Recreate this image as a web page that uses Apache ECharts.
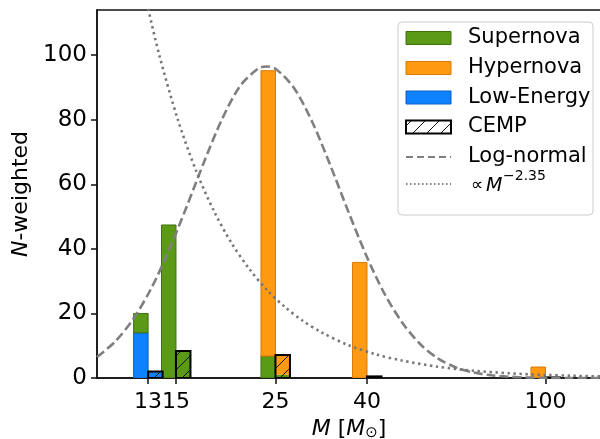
<!DOCTYPE html>
<html><head><meta charset="utf-8">
<script src="https://cdn.jsdelivr.net/npm/echarts@6/dist/echarts.min.js"></script>
<style>html,body{margin:0;padding:0;background:#fff}#c{width:600px;height:439px}</style>
</head><body><div id="c"></div>
<script>
// ---- data ----
const masses = [13, 15, 25, 40, 100];
const lowEnergy = [14.0, 0, 0, 0, 0];
const supernova = [6.0, 47.4, 6.8, 0, 0];
const hypernova = [0, 0, 88.4, 35.8, 3.4];
const cempLowEnergy = [2.0, 0, 0, 0, 0];
const cempSupernova = [0, 8.4, 1.0, 0, 0];
const cempHypernova = [0, 0, 6.1, 0.5, 0.2];
const xTicks = [13, 15, 25, 40, 100];
const yTicks = [0, 20, 40, 60, 80, 100];
const logNormalM = [10.0, 10.96, 12.02, 13.18, 14.45, 15.85, 17.38, 19.05, 20.89, 22.91, 23.88, 25.12, 27.54, 30.20, 33.11, 36.31, 39.81, 43.65, 47.86, 52.48, 57.54, 63.10, 69.18, 75.86, 83.18, 91.20, 100, 114.8, 133];
const logNormalN = [6.5, 11.2, 18.1, 27.5, 39.4, 53.1, 67.4, 80.5, 90.6, 95.9, 96.5, 95.6, 89.7, 79.3, 66.0, 51.7, 38.1, 26.4, 17.3, 10.6, 6.1, 3.3, 1.7, 0.83, 0.38, 0.16, 0.07, 0.01, 0.0];
const powerLawM = [12.59, 13.0, 13.80, 15.14, 16.60, 18.20, 19.95, 21.88, 23.99, 26.30, 28.84, 31.62, 36.31, 41.69, 47.86, 57.54, 69.18, 83.18, 100, 114.8, 133];
const powerLawN = [123.5, 114.5, 99.5, 80.1, 64.5, 51.9, 41.8, 33.7, 27.1, 21.9, 17.6, 14.2, 10.2, 7.4, 5.4, 3.5, 2.25, 1.46, 0.95, 0.69, 0.50];

const C_SN = '#5b9a17', E_SN = '#3f7010';
const C_HN = '#ff9a12', E_HN = '#d97a08';
const C_LE = '#0d82ff', E_LE = '#0b5fc4';
const FONT = 'DejaVu Sans';
const BW = 14.5;

// hatch pattern
const hatch = document.createElement('canvas');
hatch.width = 14; hatch.height = 14;
(function(){
  const g = hatch.getContext('2d');
  g.strokeStyle = '#111'; g.lineWidth = 1;
  g.beginPath();
  g.moveTo(0, 14); g.lineTo(14, 0);
  g.moveTo(-2, 2); g.lineTo(2, -2);
  g.moveTo(12, 16); g.lineTo(16, 12);
  g.stroke();
})();

function stacks(parts) {
  const out = parts.map(() => []);
  masses.forEach((m, i) => {
    let b = 0;
    parts.forEach((p, k) => {
      out[k].push([m, b, b + p[i]]);
      b += p[i];
    });
  });
  return out;
}
const mainStacks = stacks([lowEnergy, supernova, hypernova]);
const cempStacks = stacks([cempLowEnergy, cempSupernova, cempHypernova]);
const cempTotal = masses.map((m, i) => [m, 0, cempLowEnergy[i] + cempSupernova[i] + cempHypernova[i]]);

function renderer(side, fill, stroke, lw) {
  return function (params, api) {
    const m = api.value(0), b = api.value(1), t = api.value(2);
    if (!(t - b > 0)) return null;
    const p0 = api.coord([m, b]);
    const p1 = api.coord([m, t]);
    const x = side < 0 ? p0[0] - BW : p0[0];
    return { type: 'rect', shape: { x: x, y: p1[1], width: BW, height: p0[1] - p1[1] },
      style: { fill: fill, stroke: stroke, lineWidth: lw } };
  };
}
function barSeries(name, data, side, fill, stroke, lw, z) {
  return { type: 'custom', name: name, data: data, z: z || 2, clip: true,
    encode: { x: 0, y: [1, 2] }, renderItem: renderer(side, fill, stroke, lw), silent: true };
}

const series = [
  barSeries('Low-Energy', mainStacks[0], -1, C_LE, E_LE, 1),
  barSeries('Supernova', mainStacks[1], -1, C_SN, E_SN, 1),
  barSeries('Hypernova', mainStacks[2], -1, C_HN, E_HN, 1),
  barSeries('CEMP-LE', cempStacks[0], 1, C_LE, null, 0),
  barSeries('CEMP-SN', cempStacks[1], 1, C_SN, null, 0),
  barSeries('CEMP-HN', cempStacks[2], 1, C_HN, null, 0),
  barSeries('CEMP', cempTotal, 1, { image: hatch, repeat: 'repeat' }, '#000', 2, 3),
  { type: 'line', name: 'Log-normal', data: logNormalM.map((m, i) => [m, logNormalN[i]]),
    showSymbol: false, smooth: 0.3, z: 4, clip: true,
    lineStyle: { color: '#7f7f7f', width: 2.6, type: [9, 4] } },
  { type: 'line', name: 'powerlaw', data: powerLawM.map((m, i) => [m, powerLawN[i]]),
    showSymbol: false, smooth: 0.3, z: 4, clip: true,
    lineStyle: { color: '#777', width: 2.6, type: [2.4, 3.6] } }
];

// legend (graphic)
const LX = 406, LTX = 468;
const rowsY = [38, 68, 97.5, 127, 157, 184];
const legendItems = [
  { type: 'rect', shape: { x: 398, y: 22, width: 195, height: 193, r: 4 },
    style: { fill: 'rgba(255,255,255,0.85)', stroke: '#cccccc', lineWidth: 1 }, z: 10 }
];
[[C_SN, E_SN, 'Supernova'], [C_HN, E_HN, 'Hypernova'], [C_LE, E_LE, 'Low-Energy']].forEach((d, i) => {
  legendItems.push({ type: 'rect', shape: { x: LX, y: rowsY[i] - 6.5, width: 45, height: 13 },
    style: { fill: d[0], stroke: d[1], lineWidth: 1 }, z: 11 });
  legendItems.push({ type: 'text', x: LTX, y: rowsY[i], style: { text: d[2], font: '21px "' + FONT + '"', fill: '#000', verticalAlign: 'middle' }, z: 11 });
});
legendItems.push({ type: 'rect', shape: { x: LX, y: rowsY[3] - 6.5, width: 45, height: 13 },
  style: { fill: { image: hatch, repeat: 'repeat' }, stroke: '#000', lineWidth: 2 }, z: 11 });
legendItems.push({ type: 'text', x: LTX, y: rowsY[3], style: { text: 'CEMP', font: '21px "' + FONT + '"', fill: '#000', verticalAlign: 'middle' }, z: 11 });
legendItems.push({ type: 'line', shape: { x1: LX, y1: rowsY[4], x2: LX + 45, y2: rowsY[4] },
  style: { stroke: '#808080', lineWidth: 2, lineDash: [7, 4] }, z: 11 });
legendItems.push({ type: 'text', x: LTX, y: rowsY[4], style: { text: 'Log-normal', font: '21px "' + FONT + '"', fill: '#000', verticalAlign: 'middle' }, z: 11 });
legendItems.push({ type: 'line', shape: { x1: LX, y1: rowsY[5], x2: LX + 45, y2: rowsY[5] },
  style: { stroke: '#808080', lineWidth: 1.8, lineDash: [1.5, 2.5] }, z: 11 });
legendItems.push({ type: 'text', x: 471, y: rowsY[5] + 2, style: { text: '∝', font: '17px "' + FONT + '"', fill: '#000', verticalAlign: 'middle' }, z: 11 });
legendItems.push({ type: 'text', x: 486, y: rowsY[5] + 2, style: { text: 'M', font: 'italic 19px "' + FONT + '"', fill: '#000', verticalAlign: 'middle' }, z: 11 });
legendItems.push({ type: 'text', x: 503, y: rowsY[5] - 8, style: { text: '−2.35', font: '14px "' + FONT + '"', fill: '#000', verticalAlign: 'middle' }, z: 11 });

const axisLineStyle = { color: '#111', width: 1.5 };
const option = {
  animation: false,
  backgroundColor: '#fff',
  grid: { left: 97, right: -1, top: 10, bottom: 61, show: true, borderColor: '#111', borderWidth: 1.5,
    containLabel: false, outerBoundsMode: 'none' },
  xAxis: {
    type: 'log', logBase: 10, min: 10, max: 133,
    axisLine: { show: true, lineStyle: axisLineStyle },
    axisTick: { show: true, customValues: xTicks, length: 6, inside: false, lineStyle: axisLineStyle },
    axisLabel: { customValues: xTicks, fontSize: 22, color: '#000', margin: 13, fontFamily: FONT },
    splitLine: { show: false }, minorTick: { show: false }, minorSplitLine: { show: false },
    name: '{it|M} [{it|M}{sub|⊙}]', nameLocation: 'middle', nameGap: 40,
    nameTextStyle: { fontSize: 22, color: '#000', fontFamily: FONT,
      rich: { it: { fontStyle: 'italic', fontSize: 22, fontFamily: FONT, color: '#000' },
              sub: { fontSize: 15, fontFamily: FONT, color: '#000', padding: [8, 0, 0, 0] } } }
  },
  yAxis: {
    type: 'value', min: 0, max: 114,
    axisLine: { show: true, lineStyle: axisLineStyle },
    axisTick: { show: true, customValues: yTicks, length: 6, inside: false, lineStyle: axisLineStyle },
    axisLabel: { customValues: yTicks, fontSize: 23, color: '#000', margin: 10, fontFamily: FONT },
    splitLine: { show: false },
    name: '{it|N}-weighted', nameLocation: 'middle', nameGap: 63, nameRotate: 90,
    nameTextStyle: { fontSize: 22, color: '#000', fontFamily: FONT,
      rich: { it: { fontStyle: 'italic', fontSize: 22, fontFamily: FONT, color: '#000' } } }
  },
  series: series,
  graphic: { elements: legendItems }
};
const chart = echarts.init(document.getElementById('c'), null, { renderer: 'canvas' });
chart.setOption(option);
</script></body></html>
